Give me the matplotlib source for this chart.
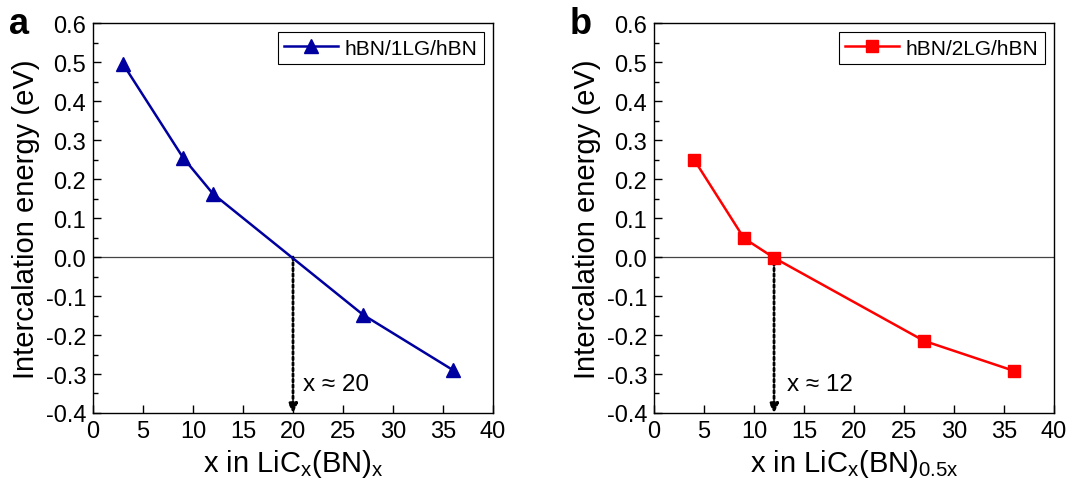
import matplotlib
matplotlib.use("Agg")
import matplotlib.pyplot as plt
from matplotlib.ticker import MultipleLocator

plt.rcParams['font.family'] = ['Liberation Sans', 'DejaVu Sans']
plt.rcParams['mathtext.fontset'] = 'custom'
plt.rcParams['mathtext.rm'] = 'Liberation Sans'
plt.rcParams['mathtext.it'] = 'Liberation Sans'

# panel a: hBN/1LG/hBN
x_1lg = [3, 9, 12, 27, 36]
e_1lg = [0.495, 0.255, 0.162, -0.148, -0.290]
# panel b: hBN/2LG/hBN
x_2lg = [4, 9, 12, 27, 36]
e_2lg = [0.250, 0.048, -0.002, -0.215, -0.292]

x_cross = [20, 12]
xticks = [0, 5, 10, 15, 20, 25, 30, 35, 40]
yticks = [-0.4, -0.3, -0.2, -0.1, 0.0, 0.1, 0.2, 0.3, 0.4, 0.5, 0.6]

fig = plt.figure(figsize=(10.68, 4.85), dpi=100)
ax1 = fig.add_axes([0.0871, 0.1464, 0.3745, 0.804])
ax2 = fig.add_axes([0.6124, 0.1464, 0.3745, 0.804])

panels = [
    (ax1, x_1lg, e_1lg, '#0000A0', '^', 9.5, 'hBN/1LG/hBN',
     r'x in LiC$_\mathregular{x}$(BN)$_\mathregular{x}$', 'a', x_cross[0], 21.0),
    (ax2, x_2lg, e_2lg, '#FF0000', 's', 8, 'hBN/2LG/hBN',
     r'x in LiC$_\mathregular{x}$(BN)$_\mathregular{0.5x}$', 'b', x_cross[1], 13.3),
]

for ax, xs, ys, col, mk, ms, lab, xlab, letter, xc, tx in panels:
    ax.axhline(0, color='#444444', lw=0.9, zorder=1)
    ax.plot(xs, ys, color=col, lw=1.8, marker=mk, ms=ms, label=lab, zorder=3)
    ax.annotate('', xy=(xc, -0.4), xytext=(xc, 0.0),
                arrowprops=dict(arrowstyle='-|>', color='black', lw=2.0,
                                linestyle=(0, (1, 1)), mutation_scale=13,
                                shrinkA=0, shrinkB=0), zorder=2)
    ax.text(tx, -0.326, 'x \u2248 %d' % xc, fontsize=17.5, va='center', ha='left')
    ax.set_xlim(0, 40)
    ax.set_ylim(-0.4, 0.6)
    ax.set_xticks(xticks)
    ax.set_yticks(yticks)
    ax.set_yticklabels(['%.1f' % v for v in yticks])
    ax.yaxis.set_minor_locator(MultipleLocator(0.05))
    ax.tick_params(axis='both', which='major', direction='in', length=6, width=1,
                   labelsize=17, pad=5)
    ax.tick_params(axis='y', which='minor', direction='in', length=3.5, width=1)
    for sp in ax.spines.values():
        sp.set_linewidth(1.0)
    ax.set_xlabel(xlab, fontsize=21, labelpad=4)
    ax.set_ylabel('Intercalation energy (eV)', fontsize=21, labelpad=4)
    leg = ax.legend(loc='upper right', fontsize=15, fancybox=False, framealpha=1,
                    edgecolor='black', handlelength=2.6, borderpad=0.3,
                    handletextpad=0.3, borderaxespad=0.45)
    leg.get_frame().set_linewidth(0.8)
    ax.text(-0.21, 1.0, letter, transform=ax.transAxes, fontsize=26,
            fontweight='bold', va='center', ha='left')

fig.savefig('out.png', dpi=100)
